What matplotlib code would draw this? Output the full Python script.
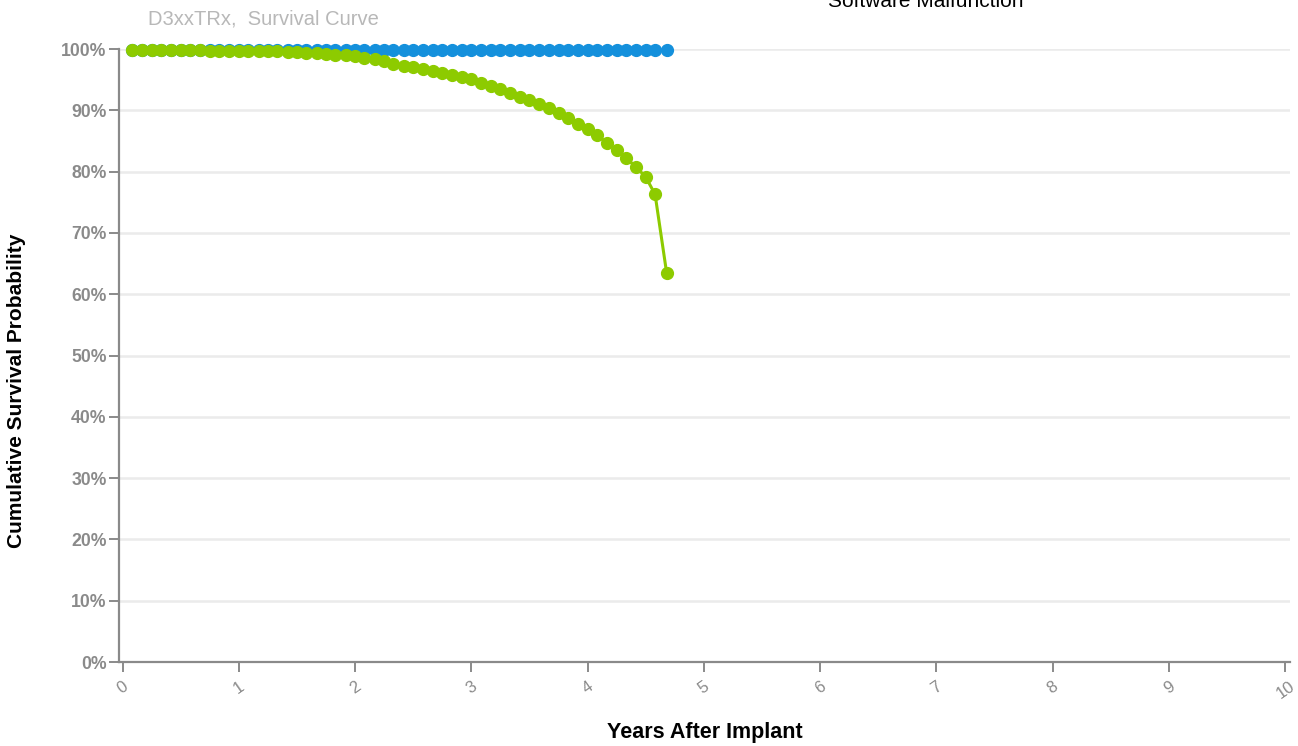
import matplotlib
matplotlib.use("Agg")
import matplotlib.pyplot as plt

plt.rcParams['font.family'] = ['Liberation Sans', 'DejaVu Sans']

# years after implant (monthly points, last one at 4.68 yrs)
years = [0.08, 0.17, 0.25, 0.33, 0.42, 0.50, 0.58, 0.67, 0.75, 0.83, 0.92, 1.00,
         1.08, 1.17, 1.25, 1.33, 1.42, 1.50, 1.58, 1.67, 1.75, 1.83, 1.92, 2.00,
         2.08, 2.17, 2.25, 2.33, 2.42, 2.50, 2.58, 2.67, 2.75, 2.83, 2.92, 3.00,
         3.08, 3.17, 3.25, 3.33, 3.42, 3.50, 3.58, 3.67, 3.75, 3.83, 3.92, 4.00,
         4.08, 4.17, 4.25, 4.33, 4.42, 4.50, 4.58, 4.68]

green = [99.8, 99.8, 99.8, 99.8, 99.8, 99.8, 99.8, 99.8, 99.7, 99.7, 99.7, 99.7,
         99.7, 99.7, 99.6, 99.6, 99.5, 99.5, 99.4, 99.3, 99.2, 99.1, 99.0, 98.8,
         98.5, 98.3, 98.0, 97.6, 97.3, 97.0, 96.7, 96.4, 96.1, 95.8, 95.5, 95.1,
         94.5, 94.0, 93.4, 92.9, 92.2, 91.7, 91.0, 90.3, 89.5, 88.7, 87.7, 86.9,
         86.0, 84.6, 83.5, 82.2, 80.7, 79.1, 76.3, 63.4]

blue = [99.9] * 55 + [99.8]

yticks = [0, 10, 20, 30, 40, 50, 60, 70, 80, 90, 100]
xticks = [0, 1, 2, 3, 4, 5, 6, 7, 8, 9, 10]

fig = plt.figure(figsize=(12.98, 7.46), dpi=100)
ax = fig.add_axes([0.0917, 0.1126, 0.9021, 0.8217])

ax.plot(years, blue, '-o', color='#1490dc', lw=2.2, ms=8.5, clip_on=False, zorder=3)
ax.plot(years, green, '-o', color='#8dcb00', lw=2.2, ms=8.5, clip_on=False, zorder=4)

ax.set_xlim(-0.03, 10.04)
ax.set_ylim(0, 100)
ax.set_yticks(yticks)
ax.set_yticklabels([f"{v}%" for v in yticks], fontsize=12.7, fontweight='bold', color='#808080')
ax.set_xticks(xticks)
ax.set_xticklabels([str(v) for v in xticks], fontsize=12, color='#888888', rotation=35)

ax.grid(axis='y', color='#ebebeb', lw=1.8)
ax.set_axisbelow(True)
for s in ['top', 'right']:
    ax.spines[s].set_visible(False)
for s in ['left', 'bottom']:
    ax.spines[s].set_color('#8a8a8a')
    ax.spines[s].set_linewidth(1.6)
ax.tick_params(axis='both', colors='#8a8a8a', length=7, width=1.4, direction='out')
ax.tick_params(axis='y', pad=2)
ax.tick_params(axis='x', pad=5)

fig.text(0.013, 0.476, "Cumulative Survival Probability", fontsize=15, fontweight='bold',
         rotation=90, ha='center', va='center')
fig.text(0.543, 0.018, "Years After Implant", fontsize=15.5, fontweight='bold', ha='center', va='center')

fig.text(0.114, 0.974, "D3xxTRx,  Survival Curve", fontsize=14.5, color='#b8b8b8', ha='left', va='center')
fig.text(0.638, 0.991, "Software Malfunction", fontsize=15, color='black', ha='left', va='baseline')

fig.savefig("out.png", dpi=100)
